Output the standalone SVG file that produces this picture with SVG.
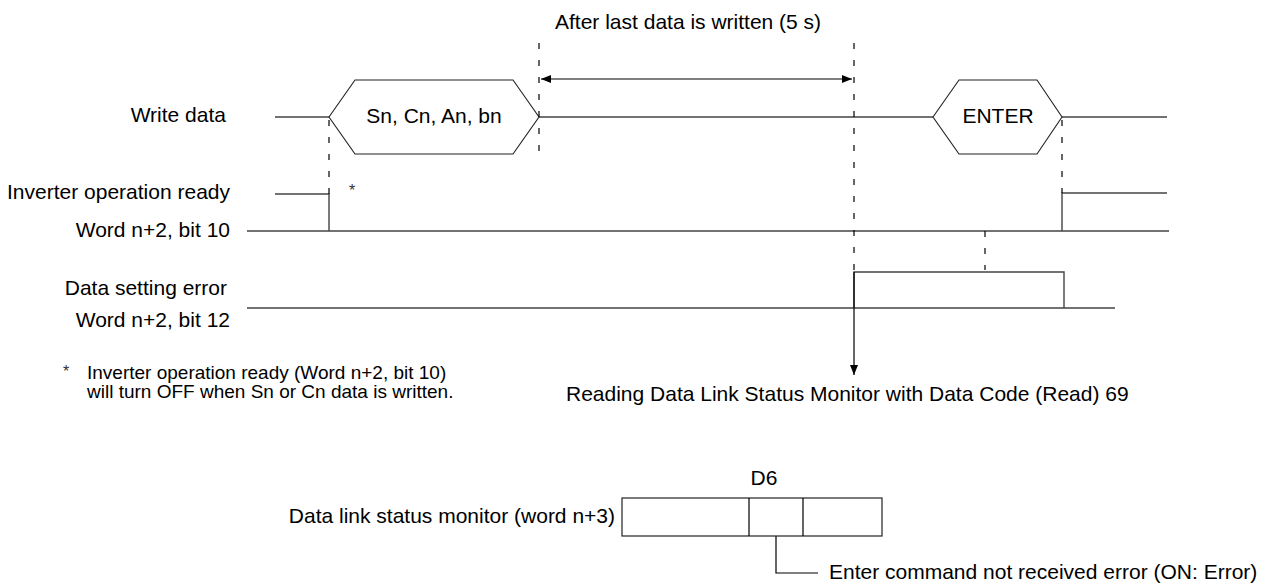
<svg xmlns="http://www.w3.org/2000/svg" width="1274" height="584" viewBox="0 0 1274 584">
<defs>
<marker id="ah" viewBox="0 0 10 8" refX="10" refY="4" markerWidth="10" markerHeight="8" markerUnits="userSpaceOnUse" orient="auto-start-reverse"><path d="M0,0 L10,4 L0,8 Z" fill="#000"/></marker>
<style>
text{font-family:"Liberation Sans",Arial,sans-serif;font-size:21px;fill:#000}
.fn{font-size:19px}
.star{font-size:16px;fill:#333}
.sig{fill:none;stroke:#444;stroke-width:1.4}
.hex{fill:#fff;stroke:#222;stroke-width:1.1}
.dash{fill:none;stroke:#000;stroke-width:1.2;stroke-dasharray:6 11}
.ln{fill:none;stroke:#000;stroke-width:1.2}
.box{fill:#fff;stroke:#222;stroke-width:1.2}
</style>
</defs>
<rect width="1274" height="584" fill="#fff"/>

<g id="title"><text x="555" y="29">After last data is written (5 s)</text></g>

<g id="labels">
<text x="226" y="122" text-anchor="end">Write data</text>
<text x="230" y="199" text-anchor="end">Inverter operation ready</text>
<text x="230" y="237" text-anchor="end">Word n+2, bit 10</text>
<text x="227" y="295" text-anchor="end">Data setting error</text>
<text x="230" y="327" text-anchor="end">Word n+2, bit 12</text>
</g>

<g id="write-data">
<path class="sig" d="M275,117 H329 M539,117 H933 M1062,117 H1167"/>
<polygon id="hex-sn" class="hex" points="329,117 355,80 513,80 539,117 513,154 355,154"/>
<text x="434" y="123" text-anchor="middle">Sn, Cn, An, bn</text>
<polygon id="hex-enter" class="hex" points="933,117 959,80 1037,80 1062,117 1037,154 959,154"/>
<text x="998" y="123" text-anchor="middle">ENTER</text>
</g>

<g id="inverter-ready">
<path class="sig" d="M275,194 H329 V231 M247,231 H1169 M1062,231 V193 H1167"/>
<text class="star" x="349" y="196">*</text>
</g>

<g id="data-error">
<path class="sig" d="M247,308 H1115 M854,308 V272 H1064 V308"/>
</g>

<g id="connectors">
<path class="dash" d="M329,120 V194"/>
<path class="dash" d="M539,43 V160"/>
<path class="dash" d="M854,43 V272"/>
<path class="dash" d="M1062,120 V193"/>
<path class="dash" d="M985,231 V270"/>
<line class="ln" x1="541" y1="79" x2="852" y2="79" marker-start="url(#ah)" marker-end="url(#ah)"/>
<line class="ln" x1="854" y1="272" x2="854" y2="375" marker-end="url(#ah)"/>
<path class="ln" d="M776,536 V573 H818"/>
</g>

<g id="footnote">
<text class="star" x="63" y="377">*</text>
<text class="fn" x="87" y="379">Inverter operation ready (Word n+2, bit 10)</text>
<text class="fn" x="87" y="398">will turn OFF when Sn or Cn data is written.</text>
</g>

<g id="reading"><text x="566" y="401">Reading Data Link Status Monitor with Data Code (Read) 69</text></g>

<g id="status-monitor">
<text x="615" y="523" text-anchor="end">Data link status monitor (word n+3)</text>
<text x="764" y="485" text-anchor="middle">D6</text>
<rect class="box" x="622" y="498" width="260" height="38"/>
<path class="ln" d="M749,498 V536 M803,498 V536"/>
<text x="829" y="579">Enter command not received error (ON: Error)</text>
</g>
</svg>
